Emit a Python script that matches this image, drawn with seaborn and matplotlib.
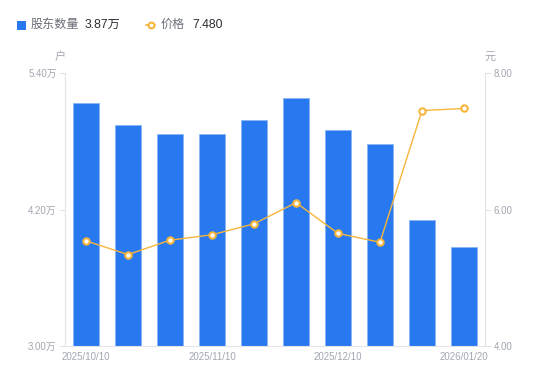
import numpy as np
import pandas as pd
import matplotlib
matplotlib.use("Agg")
import matplotlib.pyplot as plt
from matplotlib.patches import Rectangle
from matplotlib.lines import Line2D
import seaborn as sns

# ---- data ----
dates = ["2025/10/10", "2025/10/20", "2025/10/31", "2025/11/10", "2025/11/20",
         "2025/11/28", "2025/12/10", "2025/12/19", "2025/12/31", "2026/01/20"]
holders_wan = [5.14, 4.946, 4.861, 4.861, 4.984, 5.183, 4.899, 4.773, 4.105, 3.87]
price = [5.54, 5.34, 5.55, 5.63, 5.79, 6.10, 5.65, 5.52, 7.45, 7.48]
shown_dates = ["2025/10/10", "2025/11/10", "2025/12/10", "2026/01/20"]
left_ticks = [3.00, 4.20, 5.40]
right_ticks = [4.00, 6.00, 8.00]

sns.set_theme(style="white")
plt.rcParams["font.family"] = ["Liberation Sans", "Noto Sans CJK SC", "DejaVu Sans"]

BLUE = "#2878f0"
ORANGE = "#f7b53b"
AXIS = "#e3e4e8"
TICK = "#a3a6b2"

fig = plt.figure(figsize=(5.5, 3.81), dpi=100)
ax = fig.add_axes([65 / 550, 1 - 346 / 381, 420 / 550, 273 / 381])

df = pd.DataFrame({"date": dates, "holders": holders_wan, "price": price})
sns.barplot(data=df, x="date", y="holders", ax=ax, color=BLUE, saturation=1,
            width=0.6, edgecolor="#8ab6f6", linewidth=0.6)
ax.set_ylim(left_ticks[0], left_ticks[-1])
ax.set_xlim(-0.5, len(dates) - 0.5)

ax2 = ax.twinx()
sns.lineplot(x=np.arange(len(dates)), y=df["price"], ax=ax2, color=ORANGE,
             linewidth=1.0, marker="o", markersize=4.6, markerfacecolor="white",
             markeredgecolor=ORANGE, markeredgewidth=1.5)
ax2.set_ylim(right_ticks[0], right_ticks[-1])
ax2.set_xlim(-0.5, len(dates) - 0.5)

# x ticks
pos = [dates.index(d) for d in shown_dates]
ax.set_xticks(pos)
ax.set_xticklabels(shown_dates, fontsize=7, color=TICK)
ax.tick_params(axis="x", length=0, pad=4)

ax.set_yticks(left_ticks)
ax.set_yticklabels([f"{v:.2f}万" for v in left_ticks], fontsize=7, color=TICK)
ax.tick_params(axis="y", length=4, color=AXIS, width=0.8, pad=2, left=True)

ax2.set_yticks(right_ticks)
ax2.set_yticklabels([f"{v:.2f}" for v in right_ticks], fontsize=7, color=TICK)
ax2.tick_params(axis="y", length=4, color=AXIS, width=0.8, pad=2, right=True)

for a in (ax, ax2):
    a.set_xlabel("")
    a.set_ylabel("")
    a.grid(False)
    for s in a.spines.values():
        s.set_color(AXIS)
        s.set_linewidth(0.8)
    a.spines["top"].set_visible(False)
ax.spines["right"].set_visible(False)
ax2.spines["left"].set_visible(False)
ax2.spines["bottom"].set_visible(False)
ax.set_zorder(1)
ax2.set_zorder(2)
ax2.patch.set_visible(False)

# unit labels
fig.text(60 / 550, 1 - 57 / 381, "户", fontsize=8, color=TICK, ha="center", va="center")
fig.text(490 / 550, 1 - 57 / 381, "元", fontsize=8, color=TICK, ha="center", va="center")

# legend
ly = 1 - 25 / 381
fig.patches.append(Rectangle((16.5 / 550, 1 - 29.5 / 381), 9 / 550, 9 / 381,
                             transform=fig.transFigure, facecolor=BLUE,
                             edgecolor="none", figure=fig))
fig.text(31 / 550, ly, "股东数量", fontsize=8.7, color="#6b6e78", va="center")
fig.text(85 / 550, ly, f"{holders_wan[-1]:.2f}万", fontsize=8.7, color="#2b2d33", va="center")
fig.lines.append(Line2D([146 / 550, 155 / 550], [ly, ly], transform=fig.transFigure,
                        color=ORANGE, linewidth=1.2, figure=fig))
fig.lines.append(Line2D([150.5 / 550], [ly], transform=fig.transFigure,
                        color=ORANGE, marker="o", markersize=4.2, markerfacecolor="white",
                        markeredgecolor=ORANGE, markeredgewidth=1.5, linestyle="none",
                        figure=fig))
fig.text(161 / 550, ly, "价格", fontsize=8.7, color="#6b6e78", va="center")
fig.text(192 / 550, ly, f"{price[-1]:.3f}", fontsize=8.7, color="#2b2d33", va="center")

fig.savefig("out.png", dpi=100)
